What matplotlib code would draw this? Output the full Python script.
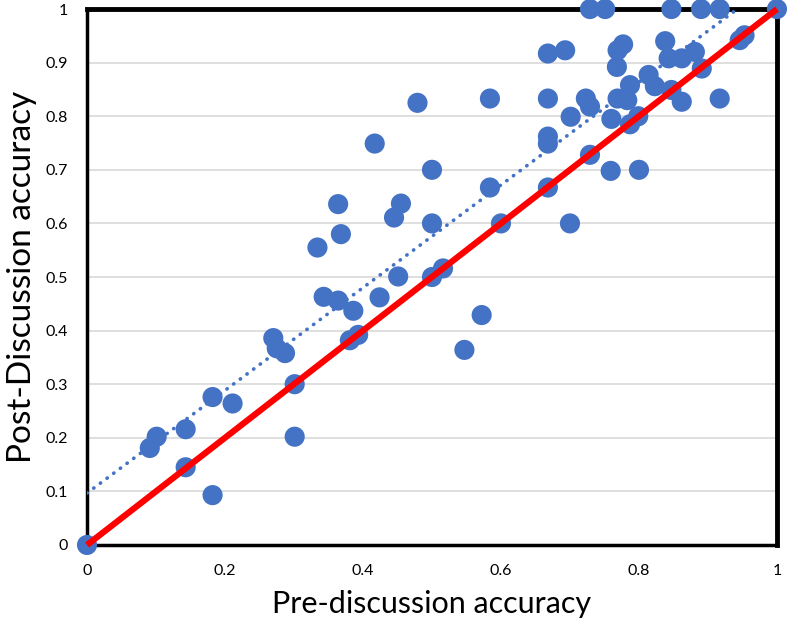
import numpy as np
import matplotlib
matplotlib.use("Agg")
import matplotlib.pyplot as plt

plt.rcParams['font.family'] = ['Lato', 'DejaVu Sans']

# pre / post discussion accuracy
pre = [0.000, 0.091, 0.101, 0.143, 0.143, 0.182, 0.182, 0.211, 0.270, 0.275,
       0.287, 0.301, 0.301, 0.343, 0.364, 0.386, 0.381, 0.393, 0.424, 0.451,
       0.500, 0.516, 0.479, 0.417, 0.364, 0.455, 0.445, 0.368, 0.334, 0.500,
       0.500, 0.584, 0.600, 0.572, 0.547, 0.584, 0.668, 0.693, 0.668, 0.668,
       0.668, 0.668, 0.700, 0.701, 0.723, 0.729, 0.729, 0.759, 0.800, 0.729,
       0.751, 0.847, 0.890, 0.917, 1.000, 0.946, 0.953, 0.769, 0.777, 0.768,
       0.838, 0.843, 0.862, 0.881, 0.891, 0.814, 0.823, 0.787, 0.769, 0.783,
       0.847, 0.862, 0.917, 0.760, 0.787, 0.799]
post = [0.000, 0.181, 0.202, 0.216, 0.145, 0.276, 0.093, 0.264, 0.386, 0.367,
        0.358, 0.300, 0.202, 0.463, 0.456, 0.437, 0.382, 0.392, 0.462, 0.501,
        0.500, 0.516, 0.825, 0.749, 0.636, 0.637, 0.611, 0.580, 0.555, 0.600,
        0.700, 0.667, 0.600, 0.429, 0.364, 0.833, 0.917, 0.923, 0.833, 0.762,
        0.749, 0.667, 0.600, 0.799, 0.833, 0.818, 0.728, 0.698, 0.700, 1.000,
        1.000, 1.000, 1.000, 1.000, 1.000, 0.942, 0.951, 0.923, 0.934, 0.892,
        0.940, 0.908, 0.908, 0.920, 0.889, 0.877, 0.856, 0.858, 0.833, 0.830,
        0.849, 0.827, 0.833, 0.795, 0.785, 0.800]

ticks = [0, 0.1, 0.2, 0.3, 0.4, 0.5, 0.6, 0.7, 0.8, 0.9, 1]
xticks = [0, 0.2, 0.4, 0.6, 0.8, 1]

fig = plt.figure(figsize=(7.88, 6.32), dpi=100)
ax = fig.add_axes([0.1104, 0.1377, 0.8756, 0.848])

ax.scatter(pre, post, s=210, color='#4472C4', edgecolors='none',
           zorder=3, clip_on=False)

# linear trendline (least squares), dotted like Excel
k, b = np.polyfit(pre, post, 1)
xs = np.array([0, 1])
ax.plot(xs, k * xs + b, color='#4472C4', lw=2.6, ls=(0, (0.1, 2.2)),
        dash_capstyle='round', zorder=4)

# y = x reference
ax.plot([0, 1], [0, 1], color='#FF0000', lw=4.5, zorder=5,
        solid_capstyle='butt', clip_on=False)

ax.set_xlim(0, 1)
ax.set_ylim(0, 1)
ax.set_yticks(ticks)
ax.set_yticklabels(['0', '0.1', '0.2', '0.3', '0.4', '0.5', '0.6', '0.7',
                    '0.8', '0.9', '1'])
ax.set_xticks(xticks)
ax.set_xticklabels(['0', '0.2', '0.4', '0.6', '0.8', '1'])
ax.tick_params(length=0, labelsize=11.5, pad=14)
ax.yaxis.grid(True, color='#D9D9D9', lw=1.2)
ax.set_axisbelow(True)
for s in ax.spines.values():
    s.set_color('black')
    s.set_linewidth(2.5)
ax.spines['top'].set_linewidth(3.5)
ax.spines['right'].set_linewidth(3.5)

ax.set_xlabel('Pre-discussion accuracy', fontsize=22, labelpad=8)
ax.set_ylabel('Post-Discussion accuracy', fontsize=24, labelpad=6)

fig.savefig('out.png', dpi=100)
